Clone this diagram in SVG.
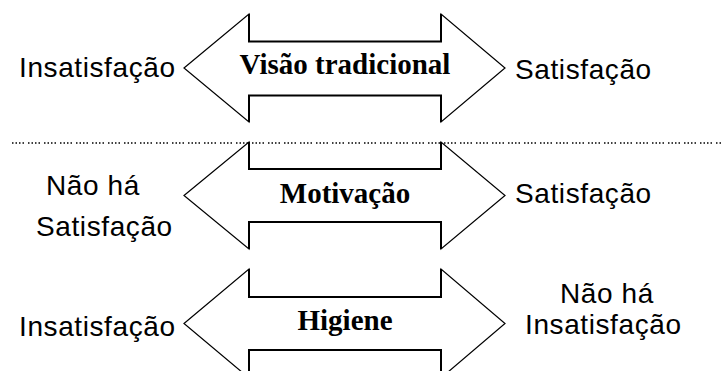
<svg xmlns="http://www.w3.org/2000/svg" width="726" height="371" viewBox="0 0 726 371">
<style>
.arrow{fill:#fff;stroke:#000;stroke-width:1.2;stroke-linejoin:miter}
.shaft{fill:none;stroke:#000;stroke-width:2}
.lbl{font-family:"Liberation Sans",Arial,sans-serif;font-size:28px;letter-spacing:0.6px;fill:#000}
.title{font-family:"Liberation Serif","Times New Roman",serif;font-size:29px;font-weight:bold;fill:#000;text-anchor:middle}
</style>
<rect width="726" height="371" fill="#fff"/>
<g id="separator">
<line x1="12" y1="143" x2="722" y2="143" stroke="#000" stroke-width="1.5" stroke-dasharray="1.5 2 1.5 2 1.5 2 1.5 4"/>
</g>
<g id="arrow-tradicional">
<path class="arrow" d="M184,68 L249,14 L249,41.5 L441,41.5 L441,14 L505,68 L441,122 L441,95.5 L249,95.5 L249,122 Z"/>
<path class="shaft" d="M249,14 L249,41.5 L441,41.5 L441,14 M249,122 L249,95.5 L441,95.5 L441,122"/>
<text class="title" x="345" y="74">Visão tradicional</text>
</g>
<g id="arrow-motivacao">
<path class="arrow" d="M184,195.5 L249,142 L249,169 L441,169 L441,142 L505,195.5 L441,249 L441,222 L249,222 L249,249 Z"/>
<path class="shaft" d="M249,142 L249,169 L441,169 L441,142 M249,249 L249,222 L441,222 L441,249"/>
<text class="title" x="345" y="203">Motivação</text>
</g>
<g id="arrow-higiene">
<path class="arrow" d="M184,323.5 L249,269 L249,297 L441,297 L441,269 L505,323.5 L441,378 L441,350 L249,350 L249,378 Z"/>
<path class="shaft" d="M249,269 L249,297 L441,297 L441,269 M249,378 L249,350 L441,350 L441,378"/>
<text class="title" x="345" y="330">Higiene</text>
</g>
<g id="labels">
<text class="lbl" x="19" y="77">Insatisfação</text>
<text class="lbl" x="515" y="79">Satisfação</text>
<text class="lbl" x="46" y="195">Não há</text>
<text class="lbl" x="36" y="236">Satisfação</text>
<text class="lbl" x="515" y="203">Satisfação</text>
<text class="lbl" x="560" y="303">Não há</text>
<text class="lbl" x="525" y="334">Insatisfação</text>
<text class="lbl" x="19" y="336">Insatisfação</text>
</g>
</svg>
